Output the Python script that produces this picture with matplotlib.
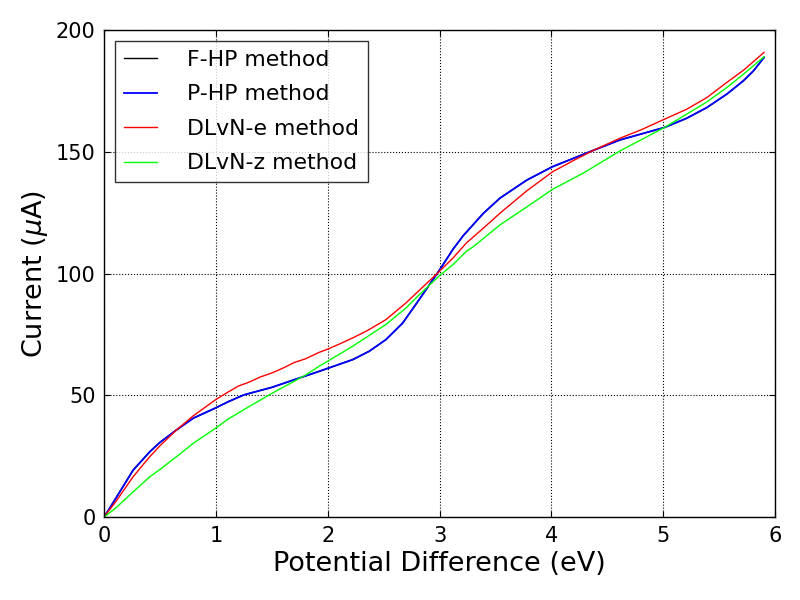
import matplotlib
matplotlib.use("Agg")
import matplotlib.pyplot as plt

# Data
x_hp = [0.0, 0.113, 0.26, 0.41, 0.5, 0.65, 0.8, 1.0, 1.11, 1.25, 1.5, 1.75, 1.925, 2.224, 2.37,
        2.52, 2.67, 2.82, 2.91, 3.0, 3.12, 3.21, 3.39, 3.54, 3.78, 4.01, 4.38, 4.614, 5.011,
        5.21, 5.39, 5.568, 5.717, 5.807, 5.9]
fhp = [0.0, 8.3, 19.3, 26.9, 30.7, 35.9, 40.7, 44.9, 47.4, 50.2, 53.3, 57.2, 59.9, 64.7, 68.1,
       72.9, 79.7, 89.5, 95.5, 101.5, 110.0, 115.5, 124.7, 131.0, 138.4, 143.9, 150.7, 154.9,
       160.0, 163.8, 168.2, 173.7, 179.2, 183.3, 188.7]
php = list(fhp)

x_e = [0.0, 0.113, 0.26, 0.41, 0.5, 0.65, 0.8, 1.0, 1.11, 1.2, 1.3, 1.4, 1.5, 1.6, 1.7, 1.8,
       1.925, 2.0, 2.1, 2.224, 2.35, 2.52, 2.70, 2.82, 3.0, 3.12, 3.24, 3.39, 3.54, 3.78, 4.01,
       4.2, 4.38, 4.614, 4.8, 5.011, 5.21, 5.39, 5.568, 5.717, 5.9]
dlvn_e = [0.0, 6.9, 16.6, 24.9, 29.3, 35.9, 41.7, 48.3, 51.4, 53.8, 55.5, 57.6, 59.2, 61.2,
          63.5, 65.0, 67.7, 69.0, 71.0, 73.6, 76.5, 81.1, 88.0, 93.2, 101.0, 106.4, 112.6, 118.6,
          124.8, 134.0, 141.8, 146.5, 150.7, 155.6, 159.0, 163.4, 167.5, 172.3, 178.5, 183.5,
          190.8]

x_z = [0.0, 0.113, 0.26, 0.41, 0.5, 0.65, 0.8, 1.0, 1.11, 1.3, 1.5, 1.8, 1.925, 2.224, 2.52,
       2.70, 2.82, 3.0, 3.12, 3.24, 3.3, 3.54, 3.78, 4.01, 4.29, 4.614, 5.011, 5.21, 5.39,
       5.568, 5.717, 5.9]
dlvn_z = [0.0, 4.1, 10.4, 16.6, 19.6, 24.9, 30.4, 36.6, 40.3, 45.5, 50.8, 58.3, 62.0, 70.2, 79.1,
          85.9, 91.4, 99.2, 103.7, 109.2, 111.0, 120.0, 127.4, 134.6, 141.4, 150.4, 160.0, 165.5,
          170.5, 176.4, 181.9, 189.0]

labels = ["F-HP method", "P-HP method", "DLvN-e method", "DLvN-z method"]

plt.rcParams['font.family'] = ['DejaVu Sans']
fig = plt.figure(figsize=(8, 6), dpi=100, facecolor='white')
ax = fig.add_axes([0.13, 0.138, 0.839, 0.812])
ax.plot(x_hp, fhp, color='black', lw=1.0, label=labels[0])
ax.plot(x_hp, php, color='blue', lw=1.3, label=labels[1])
ax.plot(x_e, dlvn_e, color='red', lw=1.0, label=labels[2])
ax.plot(x_z, dlvn_z, color='#00ff00', lw=1.0, label=labels[3])

ax.set_xlim(0, 6)
ax.set_ylim(0, 200)
ax.set_xticks([0, 1, 2, 3, 4, 5, 6])
ax.set_yticks([0, 50, 100, 150, 200])
ax.grid(True, color='black', linestyle=':', linewidth=0.8)
ax.tick_params(direction='in', top=True, right=True, labelsize=15, length=4, pad=6)
ax.set_xlabel("Potential Difference (eV)", fontsize=19.5)
ax.set_ylabel(r"Current ($\mu$A)", fontsize=19.5)
leg = ax.legend(loc='upper left', fontsize=15.8, fancybox=False, frameon=True,
                handlelength=1.5, borderpad=0.4, labelspacing=0.66, handletextpad=1.37,
                borderaxespad=0.5)
leg.get_frame().set_edgecolor('black')
leg.get_frame().set_linewidth(1.0)
for s in ax.spines.values():
    s.set_linewidth(1.0)
fig.savefig("out.png", dpi=100, facecolor='white')
